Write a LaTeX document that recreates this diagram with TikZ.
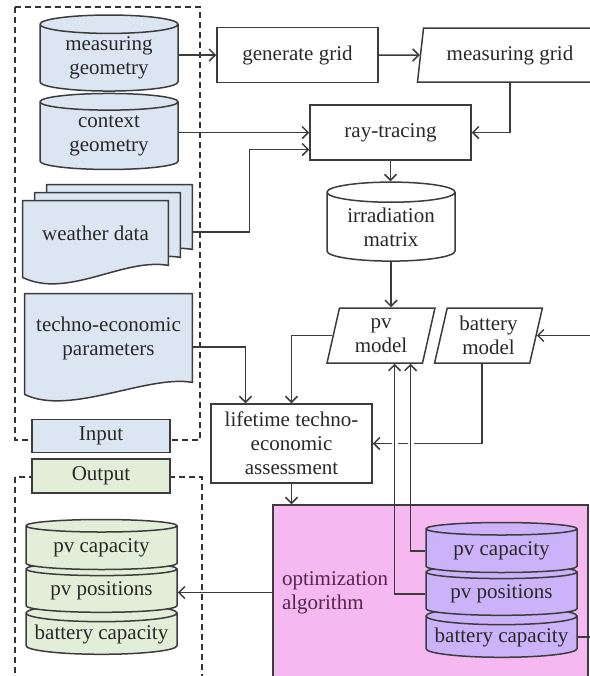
\documentclass[tikz,border=0pt]{standalone}
\usepackage{fontspec}
\setmainfont{Liberation Serif}
\usetikzlibrary{shapes.geometric,arrows.meta,backgrounds}
\definecolor{inblue}{RGB}{220,230,242}
\definecolor{outgreen}{RGB}{226,238,216}
\definecolor{optpink}{RGB}{246,184,240}
\definecolor{optpurple}{RGB}{204,178,248}
\definecolor{linec}{RGB}{60,60,60}
\definecolor{txtc}{RGB}{40,40,40}
\definecolor{optc}{RGB}{80,40,72}
\begin{document}
\begin{tikzpicture}[x=0.5pt,y=-0.5pt,font=\fontsize{10.5}{12}\selectfont,text=txtc,
  >={Straight Barb[length=3pt,width=6pt]}]
  \tikzset{box/.style={draw=linec,line width=0.75pt,minimum width=80.5pt,minimum height=27.5pt,align=center},
    para/.style={trapezium,trapezium stretches=true,trapezium left angle=77,trapezium right angle=103,
      draw=linec,line width=0.75pt,align=center,inner sep=0pt},
    cyl/.style={cylinder,shape border rotate=90,draw=linec,line width=0.75pt,align=center,inner sep=0pt},
    doc/.style={draw=linec,line width=0.75pt,fill=inblue},
    tag/.style={draw=linec,line width=0.75pt,minimum width=69pt,minimum height=16.5pt},
    group/.style={draw=black!80,line width=0.75pt,dash pattern=on 3pt off 2pt},
    conn/.style={draw=linec,line width=0.75pt,->}}
  \useasboundingbox (0,0) rectangle (590,676);
  \clip (0,0) rectangle (590,676);
  % input and output frames
  \draw[group] (15,7) rectangle (200,440);
  \draw[group] (15,477) rectangle (202,700);
  \node[cyl,fill=inblue,minimum width=69pt,minimum height=38pt,aspect=0.21] (mgeom) at (109,58) {measuring\\geometry};
  \node[cyl,fill=inblue,minimum width=69pt,minimum height=38pt,aspect=0.21] (cgeom) at (109,136) {context\\geometry};
  \node[minimum width=72.5pt,minimum height=32pt,inner sep=0pt] (wback) at (119.5,217) {};
  \node[minimum width=72.5pt,minimum height=32pt,inner sep=0pt] (wmid) at (107.5,225) {};
  \node[minimum width=72.5pt,minimum height=32pt,inner sep=0pt] (wfront) at (95.5,233) {weather data};
  \node[minimum width=83.5pt,minimum height=44pt,inner sep=0pt,align=center] (tepar) at (108.5,338) {techno-economic\\parameters};
  % document outlines with wavy lower edge, behind their texts
  \begin{pgfonlayer}{background}
    \foreach \n in {wback,wmid,wfront,tepar}
      \draw[doc] (\n.south east) -- (\n.north east) -- (\n.north west) -- ([yshift=-6pt]\n.south west)
        .. controls +(45,22) and +(-45,-8) .. (\n.south east) -- cycle;
  \end{pgfonlayer}
  \node[tag,fill=inblue] (intag) at (101,436) {Input};
  \node[tag,fill=outgreen,minimum height=17pt] (outtag) at (101,476) {Output};
  % processing chain
  \node[box] (ggrid) at (297.5,55) {generate grid};
  \node[para,minimum width=93pt,minimum height=27pt] (mgrid) at (510,55) {measuring grid};
  \node[box] (ray) at (390.5,132.5) {ray-tracing};
  \node[cyl,minimum width=64pt,minimum height=39.5pt,aspect=0.23] (irr) at (391,227) {irradiation\\matrix};
  \node[para,minimum width=54pt,minimum height=27.5pt] (pvm) at (381,335.5) {pv\\model};
  \node[para,minimum width=54pt,minimum height=27.5pt] (batm) at (488.5,335.5) {battery\\model};
  \node[box,minimum height=39.5pt] (lta) at (291.5,443.5) {lifetime techno-\\economic\\assessment};
  \node[draw=linec,line width=0.75pt,fill=optpink,minimum height=87.5pt,text width=148.5pt,
    inner xsep=4.5pt,align=left,text=optc] (opt) at (430.5,592.5) {optimization\\algorithm};
  % stacked stores, lowest first
  \foreach \n/\t/\y in {pbat/battery capacity/637,ppos/pv positions/594,pcap/pv capacity/551}
    \node[cyl,fill=optpurple,minimum width=75.5pt,minimum height=25pt,aspect=0.13] (\n) at (501.5,\y) {\t};
  \foreach \n/\t/\y in {obat/battery capacity/634,opos/pv positions/591,ocap/pv capacity/548}
    \node[cyl,fill=outgreen,minimum width=75.5pt,minimum height=25pt,aspect=0.13] (\n) at (101.5,\y) {\t};
  % connectors
  \draw[conn] (ggrid.west -| mgeom.east) -- (ggrid.west);
  \draw[conn] (ggrid.east) -- (mgrid.west);
  \draw[conn] (mgrid.south) |- (ray.east);
  \draw[conn] (ray.west -| cgeom.east) -- (ray.west);
  \draw[conn] ([yshift=-7.5pt]wback.east) -| ([xshift=-30pt,yshift=-8.5pt]ray.west) -- ([yshift=-8.5pt]ray.west);
  \draw[conn] (ray.south) -- (ray.south |- irr.north);
  \draw[conn] (irr.south) -- (irr.south |- pvm.north);
  \draw[conn] (pvm.west) -| (lta.north);
  \draw[conn] ([yshift=-4.5pt]tepar.east) -| ([xshift=-23pt]lta.north);
  \draw[conn] (batm.bottom side) |- (lta.east);
  \draw[conn] (lta.south) -- (lta.south |- opt.north);
  \draw[conn] (opt.west) -- (opt.west -| opos.east);
  \draw[conn] (pbat.east) -- ++(20,0) |- (batm.east);
  % feedback of the chosen design, with gaps where it crosses
  \coordinate (fb1) at ([xshift=10pt]pvm.bottom side);
  \coordinate (fb2) at ([xshift=18pt]pvm.bottom side);
  \foreach \c in {fb1,fb2}
    \draw[white,line width=3pt] (\c |- lta.east) ++(0,-6) -- ++(0,12);
  \draw[conn] (ppos.west) -| (fb1);
  \draw[conn] (pcap.west) -| (fb2);
\end{tikzpicture}
\end{document}
